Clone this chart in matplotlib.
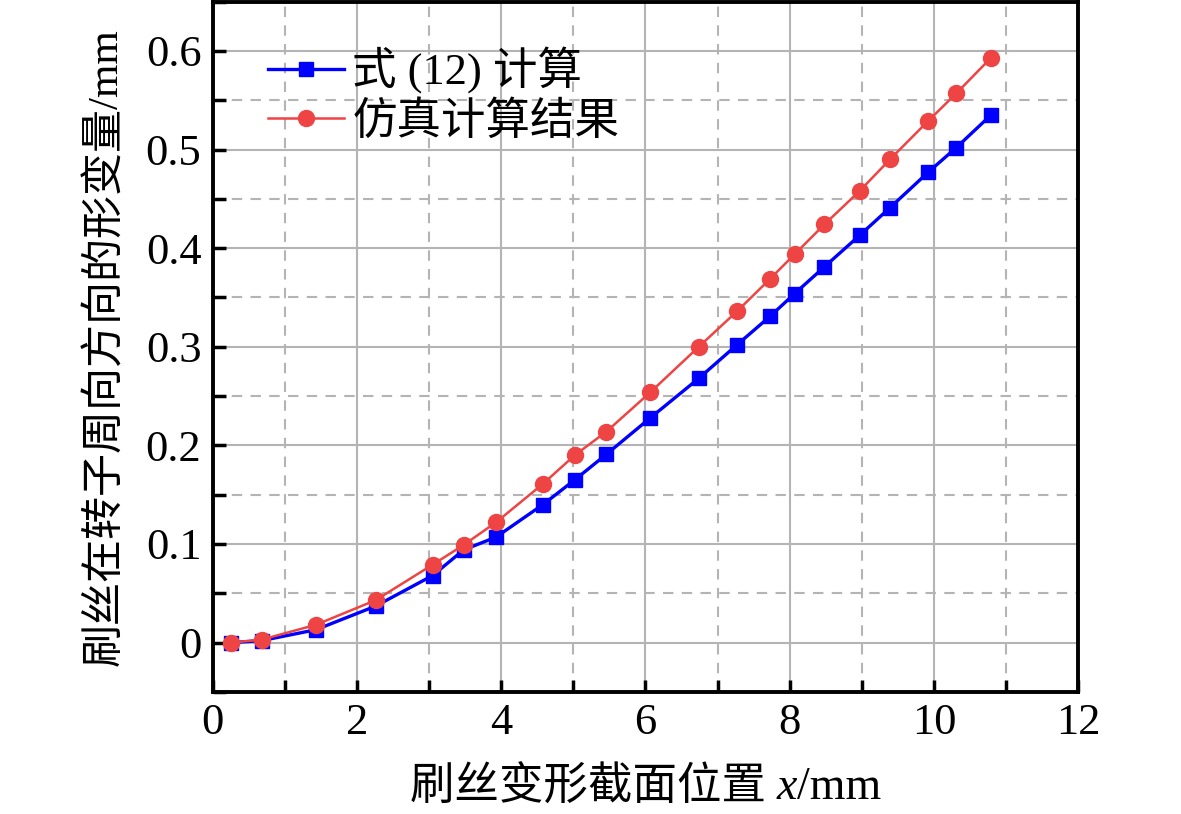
import matplotlib
matplotlib.use('Agg')
import matplotlib.pyplot as plt
from matplotlib.ticker import MultipleLocator

plt.rcParams['font.family'] = ['Liberation Serif', 'Noto Sans CJK SC']

# 数据
x_pos = [0.26, 0.68, 1.43, 2.26, 3.05, 3.48, 3.93, 4.58, 5.02, 5.46, 6.07,
         6.74, 7.27, 7.73, 8.07, 8.48, 8.97, 9.39, 9.92, 10.31, 10.79]
y_formula = [0.000, 0.002, 0.013, 0.037, 0.068, 0.094, 0.107, 0.140, 0.165, 0.191, 0.228,
             0.268, 0.302, 0.331, 0.354, 0.381, 0.413, 0.441, 0.477, 0.502, 0.535]
y_sim = [0.000, 0.003, 0.018, 0.043, 0.079, 0.099, 0.122, 0.161, 0.190, 0.214, 0.254,
         0.300, 0.336, 0.369, 0.394, 0.424, 0.458, 0.490, 0.529, 0.557, 0.593]

label_formula = '式 (12) 计算'
label_sim = '仿真计算结果'
y_ticks = [0, 0.1, 0.2, 0.3, 0.4, 0.5, 0.6]
y_ticklabels = ['0', '0.1', '0.2', '0.3', '0.4', '0.5', '0.6']

fig = plt.figure(figsize=(11.81, 8.14), dpi=100)
ax = fig.add_axes([0.180, 0.150, 0.733, 0.848])

ax.plot(x_pos, y_formula, '-s', color='#0000FF', lw=2.4, markersize=10,
        label=label_formula, zorder=3)
ax.plot(x_pos, y_sim, '-o', color='#EE4444', lw=1.8, markersize=11.5,
        label=label_sim, zorder=4)

ax.set_xlim(0, 12)
ax.set_ylim(-0.05, 0.65)
ax.xaxis.set_major_locator(MultipleLocator(2))
ax.xaxis.set_minor_locator(MultipleLocator(1))
ax.yaxis.set_minor_locator(MultipleLocator(0.05))
ax.set_yticks(y_ticks)
ax.set_yticklabels(y_ticklabels)

ax.grid(True, which='major', color='#b4b4b4', lw=1.5, ls='-', zorder=0)
ax.grid(True, which='minor', color='#b4b4b4', lw=1.5, ls=(0, (5, 4)), zorder=0)
ax.set_axisbelow(True)

ax.tick_params(which='both', direction='in', width=2.5, labelsize=32,
               top=False, right=False)
ax.tick_params(which='major', length=9, pad=8)
ax.tick_params(which='minor', length=9)
for s in ax.spines.values():
    s.set_linewidth(2.8)

ax.set_ylabel('刷丝在转子周向方向的形变量/mm', fontsize=31, labelpad=14)

# x 轴标题（x 为斜体）
t1 = ax.text(0.2277, -0.1565, '刷丝变形截面位置 ', transform=ax.transAxes,
             fontsize=32, ha='left', va='baseline')
t2 = ax.annotate('x', xy=(1, 0), xycoords=t1, fontsize=33, style='italic',
                 family='Liberation Serif', ha='left', va='bottom')
t3 = ax.annotate('/mm', xy=(1, 0), xycoords=t2, fontsize=33,
                 family='Liberation Serif', ha='left', va='bottom')

ax.legend(loc='upper left', bbox_to_anchor=(0.0435, 0.96), frameon=False,
          fontsize=32, handlelength=1.7, handletextpad=0.2, labelspacing=0.15,
          borderaxespad=0)

fig.savefig('out.png', dpi=100)
